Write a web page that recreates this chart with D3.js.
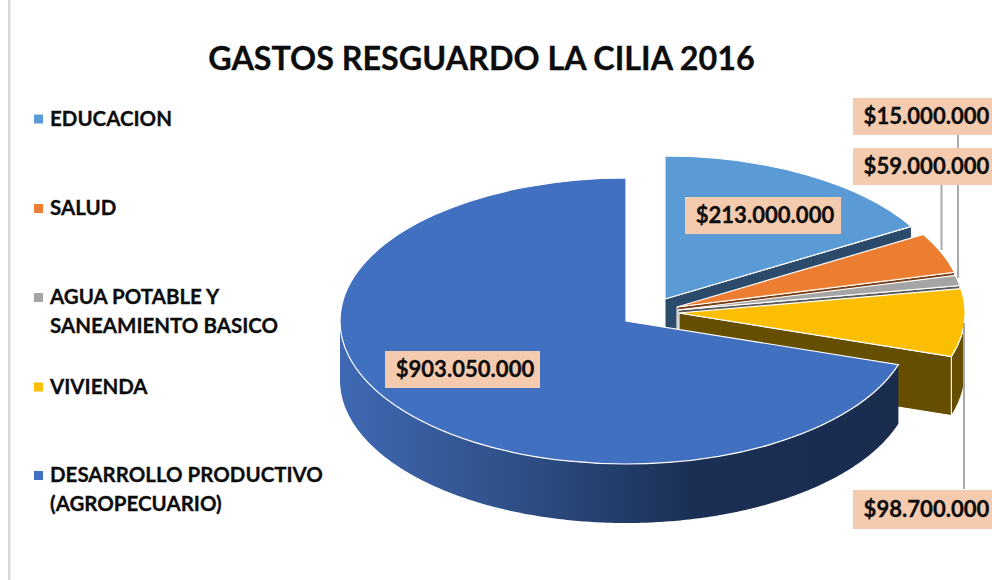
<!DOCTYPE html>
<html><head><meta charset="utf-8">
<script src="https://cdn.jsdelivr.net/npm/d3@7"></script>
<style>html,body{margin:0;padding:0;background:#fff;overflow:hidden}svg{display:block}text{font-family:Lato,"Noto Sans",sans-serif;font-weight:700;fill:#0d0d0d;stroke:#0d0d0d;stroke-width:.3px}</style>
</head><body><svg id="c" width="992" height="580"></svg>
<script>
const title = "GASTOS RESGUARDO LA CILIA 2016";
const categories = ["EDUCACION","SALUD","AGUA POTABLE Y|SANEAMIENTO BASICO","VIVIENDA","DESARROLLO PRODUCTIVO|(AGROPECUARIO)"];
const values = [213000000,59000000,15000000,98700000,903050000];
const topColors = ["#5B9BD5","#ED7D31","#A5A5A5","#FBBE00","#4270C0"];
const wallColors = ["#2C4A6B","#7A3F16","#5A5A5A","#664E00","#1A2C4E"];

// layout
const W=992,H=580, cx=626, cy=321, R=286, squash=0.5, depth=59;
const explode=[[39,-22],[51,-14],[52,-11],[53,-8],[0,0]];
const labelBoxes=[[685,197,156,37],[853,148,139,37],[853,98,139,37],[853,490,139,39],[385,351,155,37]];
const leaders=[null,[941.5,185,250],[958,135,278],[964,323,489],null];
const legendY=[119,208.5,297.5,387,475.5];

const fmt=v=>"$"+d3.format(",")(v).replace(/,/g,".");
const svg=d3.select("#c");
const defs=svg.append("defs");
const grad=defs.append("linearGradient").attr("id","wallBlue").attr("gradientUnits","userSpaceOnUse")
  .attr("x1",cx-R).attr("x2",cx+R).attr("y1",0).attr("y2",0);
[[0,"#3F69B4"],[0.3,"#2F5088"],[0.62,"#1B2F54"],[1,"#1A2C4E"]].forEach(s=>grad.append("stop").attr("offset",s[0]).attr("stop-color",s[1]));

svg.append("rect").attr("x",8).attr("y",0).attr("width",2.5).attr("height",H).attr("fill","#D9D9D9");

svg.append("text").attr("x",481.5).attr("y",69.5).attr("text-anchor","middle").attr("font-size",32.3).text(title);

const slices=d3.pie().sort(null).startAngle(0).endAngle(2*Math.PI)(values);
const arc=d3.arc().innerRadius(0).outerRadius(R);
const line=d3.line();
const pt=(a,i,dy=0)=>[cx+explode[i][0]+R*Math.sin(a), cy+explode[i][1]-R*squash*Math.cos(a)+dy];
const ctr=(i,dy=0)=>[cx+explode[i][0], cy+explode[i][1]+dy];

slices.forEach((s,i)=>{
  const g=svg.append("g");
  const isBig=i===slices.length-1;
  if(!isBig){
    g.append("path").attr("d",line([ctr(i),pt(s.endAngle,i),pt(s.endAngle,i,depth),ctr(i,depth)])+"Z")
      .attr("fill",wallColors[i]).attr("stroke","#fff").attr("stroke-width",1);
  }
  const a0=Math.max(s.startAngle,Math.PI/2), a1=Math.min(s.endAngle,1.5*Math.PI);
  if(a1>a0){
    const as=d3.range(a0,a1,0.01).concat([a1]);
    const pts=as.map(a=>pt(a,i)).concat(as.slice().reverse().map(a=>pt(a,i,depth)));
    g.append("path").attr("d",line(pts)+"Z").attr("fill",isBig?"url(#wallBlue)":wallColors[i])
      .attr("stroke",isBig?"none":"#fff").attr("stroke-width",1);
  }
  g.append("path").attr("d",arc(s))
    .attr("transform",`translate(${ctr(i)}) scale(1,${squash})`)
    .attr("fill",topColors[i]).attr("stroke","#fff").attr("stroke-width",1.2).attr("vector-effect","non-scaling-stroke");
});

leaders.forEach(l=>{ if(l) svg.append("line").attr("x1",l[0]).attr("x2",l[0]).attr("y1",l[1]).attr("y2",l[2]).attr("stroke","#A9A9A9").attr("stroke-width",2); });

values.forEach((v,i)=>{
  const b=labelBoxes[i];
  svg.append("rect").attr("x",b[0]).attr("y",b[1]).attr("width",b[2]).attr("height",b[3]).attr("fill","#F4CBAF");
  svg.append("text").attr("x",b[0]+(i==0||i==4?80:73.5)).attr("y",b[1]+b[3]/2+7.5).attr("text-anchor","middle").attr("font-size",22.1).text(fmt(v));
});

categories.forEach((c,i)=>{
  svg.append("rect").attr("x",34).attr("y",legendY[i]-4.5).attr("width",9).attr("height",9).attr("fill",topColors[i]);
  c.split("|").forEach((t,j)=>svg.append("text").attr("x",50).attr("y",legendY[i]+6.5+j*29).attr("font-size",20.5).text(t));
});
</script></body></html>
